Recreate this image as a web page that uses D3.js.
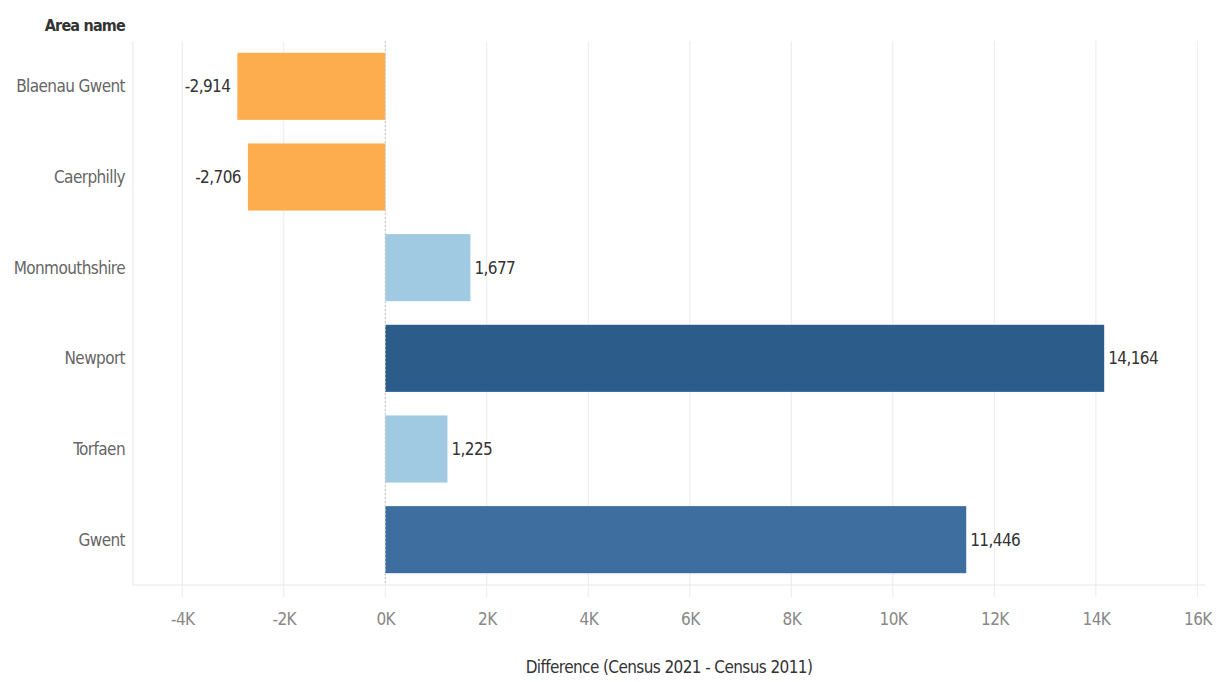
<!DOCTYPE html>
<html>
<head>
<meta charset="utf-8">
<script src="https://cdn.jsdelivr.net/npm/d3@7"></script>
<style>
  body { margin: 0; background: #fff; }
  text { font-family: "DejaVu Sans Condensed", "DejaVu Sans", sans-serif; font-stretch: condensed; letter-spacing: -0.6px; }
</style>
</head>
<body>
<div id="mainDiv"></div>
<script>
// chart data
var areaNames = ["Blaenau Gwent", "Caerphilly", "Monmouthshire", "Newport", "Torfaen", "Gwent"];
var differenceValues = [-2914, -2706, 1677, 14164, 1225, 11446];
var tickValues = [-4000, -2000, 0, 2000, 4000, 6000, 8000, 10000, 12000, 14000, 16000];

var width = 1216, height = 682;
var plotLeft = 133, plotRight = 1205, plotTop = 41, plotBottom = 585;

var svg = d3.select("#mainDiv").append("svg")
    .attr("width", width).attr("height", height).attr("id", "mainCanvas");

var x = d3.scaleLinear().domain([-4970, 16150]).range([plotLeft, plotRight]);
var y = d3.scaleBand().domain(areaNames).range([plotTop, plotBottom]).paddingInner(0.26).paddingOuter(0.13);

// colour by value, tableau style
var barColor = d3.scaleOrdinal().domain(areaNames)
    .range(["#fdad4e", "#fdad4e", "#9fcae2", "#2c5c8a", "#9fcae2", "#3d6e9f"]);

// vertical gridlines
svg.append("g").selectAll("line").data(tickValues).enter().append("line")
    .attr("x1", d => x(d)).attr("x2", d => x(d))
    .attr("y1", plotTop).attr("y2", plotBottom + 12)
    .attr("stroke", "#ececec").attr("stroke-width", 1);

// left border and bottom axis line
svg.append("line").attr("x1", plotLeft).attr("x2", plotLeft)
    .attr("y1", plotTop).attr("y2", plotBottom).attr("stroke", "#e6e6e6");
svg.append("line").attr("x1", plotLeft).attr("x2", plotRight)
    .attr("y1", plotBottom).attr("y2", plotBottom).attr("stroke", "#e6e6e6");

// bars
var rows = areaNames.map((name, i) => ({ name: name, value: differenceValues[i] }));

svg.append("g").selectAll("rect").data(rows).enter().append("rect")
    .attr("x", d => x(Math.min(0, d.value)))
    .attr("width", d => Math.abs(x(d.value) - x(0)))
    .attr("y", d => y(d.name))
    .attr("height", y.bandwidth())
    .attr("fill", d => barColor(d.name));

// zero line
svg.append("line").attr("x1", x(0)).attr("x2", x(0))
    .attr("y1", plotTop).attr("y2", plotBottom)
    .attr("stroke", "#c8c8c8").attr("stroke-dasharray", "2,2");

// value labels
var fmt = d3.format(",");
svg.append("g").selectAll("text").data(rows).enter().append("text")
    .attr("x", d => d.value < 0 ? x(d.value) - 7 : x(d.value) + 4)
    .attr("y", d => y(d.name) + y.bandwidth() / 2)
    .attr("dy", "0.35em")
    .attr("text-anchor", d => d.value < 0 ? "end" : "start")
    .attr("font-size", 17).attr("fill", "#333")
    .text(d => fmt(d.value).replace("\u2212", "-"));

// category labels
svg.append("g").selectAll("text").data(areaNames).enter().append("text")
    .attr("x", 125).attr("y", d => y(d) + y.bandwidth() / 2)
    .attr("dy", "0.35em").attr("text-anchor", "end")
    .attr("font-size", 17).attr("fill", "#666")
    .text(d => d);

svg.append("text").attr("x", 125).attr("y", 31).attr("text-anchor", "end")
    .attr("font-size", 16).attr("font-weight", "bold").attr("fill", "#333")
    .style("letter-spacing", "-0.8px")
    .text("Area name");

// x axis
var xAxis = d3.axisBottom(x).tickValues(tickValues).tickSize(0)
    .tickFormat(d => (d / 1000) + "K");
var axisG = svg.append("g").attr("transform", "translate(0," + (plotBottom + 25) + ")").call(xAxis);
axisG.select(".domain").remove();
axisG.selectAll("text").attr("font-size", 17).attr("fill", "#888")
    .style("font-family", "'DejaVu Sans Condensed', 'DejaVu Sans', sans-serif");

svg.append("text").attr("x", (527 + 811) / 2).attr("y", 673).attr("text-anchor", "middle")
    .attr("font-size", 17).attr("fill", "#333")
    .text("Difference (Census 2021 - Census 2011)");
</script>
</body>
</html>
